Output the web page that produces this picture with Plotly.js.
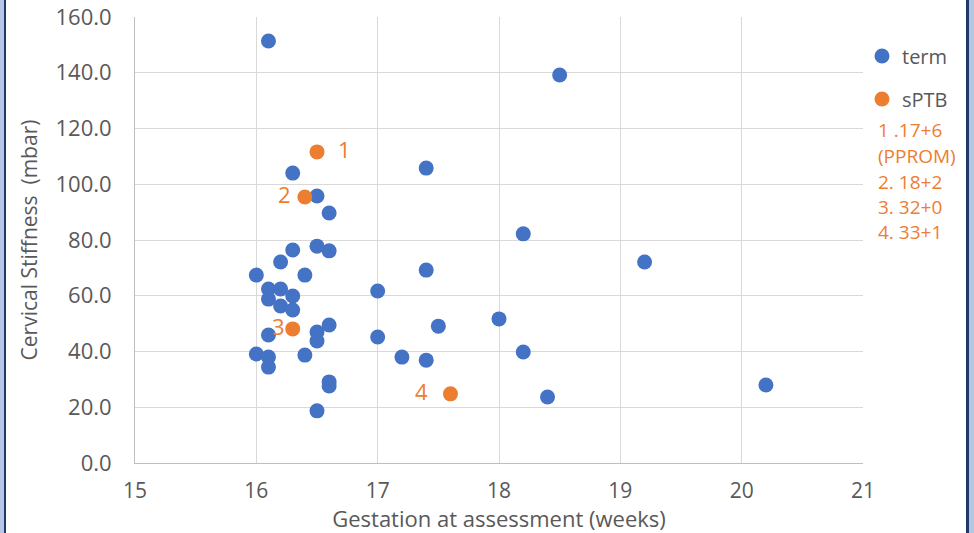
<!DOCTYPE html>
<html>
<head>
<meta charset="utf-8">
<script src="https://cdn.plot.ly/plotly-3.0.1.min.js"></script>
<style>
  html, body { margin: 0; padding: 0; background: #fff; }
  #wrap { position: relative; width: 974px; height: 533px; overflow: hidden; }
  #chart { width: 974px; height: 533px; }
  .edge { position: absolute; top: 0; height: 533px; pointer-events: none; }
</style>
</head>
<body>
<div id="wrap">
  <div id="chart"></div>
  <div class="edge" style="left:0;width:4px;background:#b4c7e7;"></div>
  <div class="edge" style="left:4px;width:2px;background:#203864;"></div>
  <div class="edge" style="left:966px;width:3px;background:#203864;"></div>
  <div class="edge" style="left:969px;width:5px;background:#b4c7e7;"></div>
</div>
<script>
// term group
const termWeeks = [16.1, 18.5, 17.4, 16.3, 16.5, 16.6, 18.2, 16.3, 16.5, 16.6,
                   16.2, 19.2, 17.4, 16.0, 16.4, 16.1, 16.2, 17.0, 16.1, 16.3,
                   16.2, 16.3, 18.0, 17.5, 16.6, 16.5, 16.1, 17.0, 16.5, 18.2,
                   16.0, 16.4, 16.1, 17.2, 17.4, 16.1, 16.6, 16.6, 20.2, 18.4,
                   16.5];
const termStiff = [151.4, 139.2, 105.8, 104.0, 95.8, 89.7, 82.2, 76.4, 77.8, 76.1,
                   72.1, 72.1, 69.2, 67.4, 67.4, 62.4, 62.4, 61.7, 58.8, 59.9,
                   56.3, 54.9, 51.7, 49.1, 49.5, 47.0, 45.9, 45.2, 43.8, 39.8,
                   39.1, 38.7, 38.0, 38.0, 36.9, 34.4, 29.1, 27.6, 28.0, 23.7,
                   18.7];
// sPTB group
const sptbWeeks = [16.5, 16.4, 16.3, 17.6];
const sptbStiff = [111.6, 95.4, 48.1, 24.8];
const sptbLabels = ["1", "2", "3", "4"];
const noteLines = ["1 .17+6", "(PPROM)", "2. 18+2", "3. 32+0", "4. 33+1"];

const xTicks = [15, 16, 17, 18, 19, 20, 21];
const yTicks = [0, 20, 40, 60, 80, 100, 120, 140, 160];

const BLUE = "#4472C4";
const ORANGE = "#ED7D31";
const FONT = "Open Sans, sans-serif";
const GREY = "#595959";

const traces = [
  {
    type: "scatter", mode: "markers", name: "term",
    x: termWeeks, y: termStiff,
    marker: { color: BLUE, size: 15 },
    legend: "legend", cliponaxis: false
  },
  {
    type: "scatter", mode: "markers", name: "sPTB",
    x: sptbWeeks, y: sptbStiff,
    marker: { color: ORANGE, size: 15 },
    legend: "legend2", cliponaxis: false
  }
];

const labelShift = [27, -20, -14, -29];
const annotations = sptbLabels.map((t, i) => ({
  x: sptbWeeks[i], y: sptbStiff[i], xref: "x", yref: "y",
  text: t, showarrow: false, xshift: labelShift[i], yshift: 3,
  font: { family: FONT, size: 22, color: ORANGE }
}));
const noteY = [130, 156, 182, 207, 232];
noteLines.forEach((t, i) => {
  annotations.push({
    x: 876, y: 533 - noteY[i], xref: "paper", yref: "paper",
    text: t, showarrow: false, xanchor: "left", yanchor: "middle",
    font: { family: FONT, size: 19, color: ORANGE }
  });
});
// convert pixel note positions into paper coords
const L = 135, R = 111, T = 17, B = 70, W = 974, H = 533;
annotations.forEach(a => {
  if (a.xref === "paper") {
    a.x = (a.x - L) / (W - L - R);
    a.y = (a.y - B) / (H - T - B);
  }
});

const layout = {
  width: W, height: H,
  margin: { l: L, r: R, t: T, b: B },
  paper_bgcolor: "#fff", plot_bgcolor: "#fff",
  font: { family: FONT, color: GREY },
  showlegend: true,
  xaxis: {
    range: [15, 21], tickvals: xTicks, ticktext: xTicks.map(String),
    showgrid: true, gridcolor: "#d9d9d9", gridwidth: 1,
    zeroline: false, showline: true, linecolor: "#bfbfbf", linewidth: 1,
    ticks: "", ticklabelstandoff: 9,
    tickfont: { family: FONT, size: 21, color: GREY },
    title: { text: "Gestation at assessment (weeks)", standoff: 8,
             font: { family: FONT, size: 22, color: GREY } },
    automargin: false
  },
  yaxis: {
    range: [0, 160], tickvals: yTicks, ticktext: yTicks.map(v => v.toFixed(1)),
    showgrid: true, gridcolor: "#d9d9d9", gridwidth: 1,
    zeroline: false, showline: true, linecolor: "#bfbfbf", linewidth: 1,
    ticks: "", ticklabelstandoff: 18,
    tickfont: { family: FONT, size: 22, color: GREY },
    title: { text: "Cervical Stiffness  (mbar)", standoff: 12,
             font: { family: FONT, size: 21, color: GREY } },
    automargin: false
  },
  legend: {
    x: (862 - L) / (W - L - R), y: (533 - 56 - B) / (H - T - B),
    xanchor: "left", yanchor: "middle",
    font: { family: FONT, size: 20, color: GREY },
    bgcolor: "rgba(0,0,0,0)", itemwidth: 30
  },
  legend2: {
    x: (862 - L) / (W - L - R), y: (533 - 99 - B) / (H - T - B),
    xanchor: "left", yanchor: "middle",
    font: { family: FONT, size: 20, color: GREY },
    bgcolor: "rgba(0,0,0,0)", itemwidth: 30
  },
  annotations: annotations
};

Plotly.newPlot("chart", traces, layout, { staticPlot: true, displayModeBar: false });
</script>
</body>
</html>
